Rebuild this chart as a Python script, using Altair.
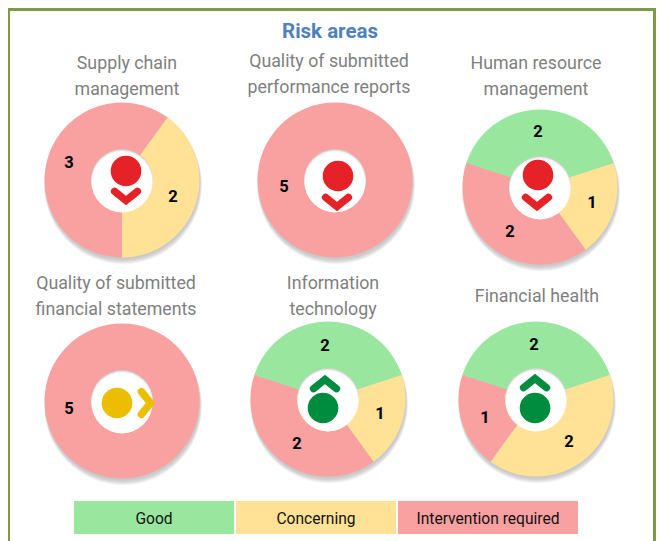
import altair as alt
import pandas as pd

FONT = "Roboto"
STATUS = ["Good", "Concerning", "Intervention required"]
COLORS = ["#99E69F", "#FFE295", "#F9A0A0"]

# panels
names = ["P1", "P2", "P3", "P4", "P5", "P6"]
center_x = [122, 335, 540, 122, 328, 536]
center_y = [180, 180, 187, 401, 399, 399]
# start of the first slice, in score units clockwise from 12 o'clock
start_units = [0.5, 0, -1, 0, -1, -1]
good = [0, 0, 2, 0, 2, 2]
concerning = [2, 0, 1, 0, 1, 2]
intervention = [3, 5, 2, 5, 2, 1]

title_text = ["Supply chain", "management", "Quality of submitted", "performance reports",
              "Human resource", "management", "Quality of submitted", "financial statements",
              "Information", "technology", "Financial health"]
title_x = [127, 127, 329, 329, 536, 536, 116, 116, 333, 333, 537]
title_y = [62, 88, 60, 86, 62, 88, 282, 308, 282, 308, 295]

label_text = ["3", "2", "5", "2", "1", "2", "5", "2", "1", "2", "2", "2", "1"]
label_x = [69, 173, 284, 538, 592, 510, 69, 325, 380, 297, 534, 569, 485]
label_y = [163, 197, 187, 132, 203, 232, 409, 346, 414, 444, 345, 442, 418]

icon_status = ["Down", "Down", "Down", "Flat", "Up", "Up"]
dot_x = [126, 338, 538, 117, 323, 535]
dot_y = [171, 176, 175, 403, 408, 408]
chev_x = [126, 337, 537, 146, 325, 535]
chev_y = [196, 202, 202, 403, 384, 383]

legend_x = [74, 236, 398]
legend_x2 = [234, 396, 578]
legend_y = [501, 501, 501]
legend_y2 = [534, 534, 534]

rows = []
for i, n in enumerate(names):
    pos = start_units[i]
    for status, v in zip(STATUS, (good[i], concerning[i], intervention[i])):
        if v:
            rows.append(dict(panel=n, status=status, a=pos, b=pos + v, cx=center_x[i], cy=center_y[i]))
            pos += v
slices = pd.DataFrame(rows)
centers = pd.DataFrame(dict(panel=names, cx=center_x, cy=center_y))
icons = pd.DataFrame(dict(icon=icon_status, dx=dot_x, dy=dot_y, hx=chev_x, hy=chev_y))
titles = pd.DataFrame(dict(t=title_text, x=title_x, y=title_y))
labels = pd.DataFrame(dict(t=label_text, x=label_x, y=label_y))
legend = pd.DataFrame(dict(t=STATUS, x=legend_x, x2=legend_x2, y=legend_y, y2=legend_y2))
legend["xm"] = (legend.x + legend.x2) / 2
legend["ym"] = (legend.y + legend.y2) / 2

W, H = 648, 533
xs = alt.Scale(domain=[8, 8 + W], range=[0, W])
ys = alt.Scale(domain=[8, 8 + H], range=[0, H])
X = lambda f: alt.X(f, type="quantitative", scale=xs, axis=None)
Y = lambda f: alt.Y(f, type="quantitative", scale=ys, axis=None)
color = alt.Color("status:N", scale=alt.Scale(domain=STATUS, range=COLORS), legend=None)
icon_color = alt.Color("icon:N", scale=alt.Scale(domain=["Down", "Flat", "Up"],
                                                 range=["#E52228", "#EDBE00", "#008C3E"]), legend=None)


def disc(data, r, col, op, xf="cx", yf="cy", dx=0, dy=0):
    d = data.copy()
    d["_x"] = d[xf] + dx
    d["_y"] = d[yf] + dy
    return alt.Chart(d).mark_circle(size=(2 * r) ** 2, color=col, opacity=op).encode(
        x=X("_x"), y=Y("_y"))


frame_df = pd.DataFrame(dict(x=[8.5], x2=[654.5], y=[9.5], y2=[600]))
frame = alt.Chart(frame_df).mark_rect(fill="white", stroke="#7F9A43", strokeWidth=3).encode(
    x=X("x"), x2="x2", y=Y("y"), y2="y2")

shadows = [disc(centers, r, "#555555", 0.07, dx=dx, dy=dy)
           for r, dx, dy in [(79, 1, 5), (78.5, 1, 4.5), (78, 1, 4), (78, 0.5, 3), (77.5, 0.5, 2)]]

arcs = alt.Chart(slices).mark_arc(outerRadius=77.5, innerRadius=0).encode(
    x=X("cx"), y=Y("cy"),
    theta=alt.Theta("a:Q", scale=alt.Scale(domain=[0, 5], range=[0, 6.283185307]), stack=None),
    theta2="b:Q", color=color)

hole = [disc(centers, 30.8, "#FFFFFF", 1),
        disc(centers, 30.8, "#777777", 0.4, dy=0),
        disc(centers, 30.8, "#FFFFFF", 0.55, dy=0.9),
        disc(centers, 30.6, "#FFFFFF", 0.7, dy=1.6),
        disc(centers, 30.0, "#FFFFFF", 1, dy=2.4)]

dots = alt.Chart(icons).mark_circle(size=(2 * 15.3) ** 2, opacity=1).encode(
    x=X("dx"), y=Y("dy"), color=icon_color)


def chevron(which, path):
    return alt.Chart(icons[icons.icon == which]).mark_point(
        shape=path, size=520, filled=False, strokeWidth=7.5, strokeCap="round",
        strokeJoin="miter", opacity=1).encode(x=X("hx"), y=Y("hy"), color=icon_color)


chev_down = chevron("Down", "M-1,-0.4L0,0.4L1,-0.4")
chev_up = chevron("Up", "M-1,0.4L0,-0.4L1,0.4")
chev_flat = chevron("Flat", "M-0.4,-1L0.4,0L-0.4,1")

title_layer = alt.Chart(titles).mark_text(font=FONT, fontSize=17.8, dy=1.5, color="#7F7F7F").encode(
    x=X("x"), y=Y("y"), text="t:N")
value_layer = alt.Chart(labels).mark_text(font=FONT, fontSize=16.5, fontWeight="bold", color="#000000").encode(
    x=X("x"), y=Y("y"), text="t:N")
main_title = alt.Chart(pd.DataFrame(dict(t=["Risk areas"], x=[330], y=[32]))).mark_text(
    font=FONT, fontSize=20.5, fontWeight="bold", color="#4F81BD").encode(x=X("x"), y=Y("y"), text="t:N")
legend_rects = alt.Chart(legend).mark_rect().encode(
    x=X("x"), x2="x2", y=Y("y"), y2="y2",
    color=alt.Color("t:N", scale=alt.Scale(domain=STATUS, range=COLORS), legend=None))
legend_text = alt.Chart(legend).mark_text(font=FONT, fontSize=15.6, dy=1, color="#111111").encode(
    x=X("xm"), y=Y("ym"), text="t:N")

chart = alt.layer(
    frame, *shadows, arcs, *hole, dots, chev_down, chev_up, chev_flat,
    main_title, title_layer, value_layer, legend_rects, legend_text,
).properties(width=W, height=H, padding=0, autosize=alt.AutoSizeParams(type="none"),
             background="white").resolve_scale(color="independent").configure_view(stroke=None)

chart.save("out.html", embed_options={"renderer": "svg", "actions": False})
